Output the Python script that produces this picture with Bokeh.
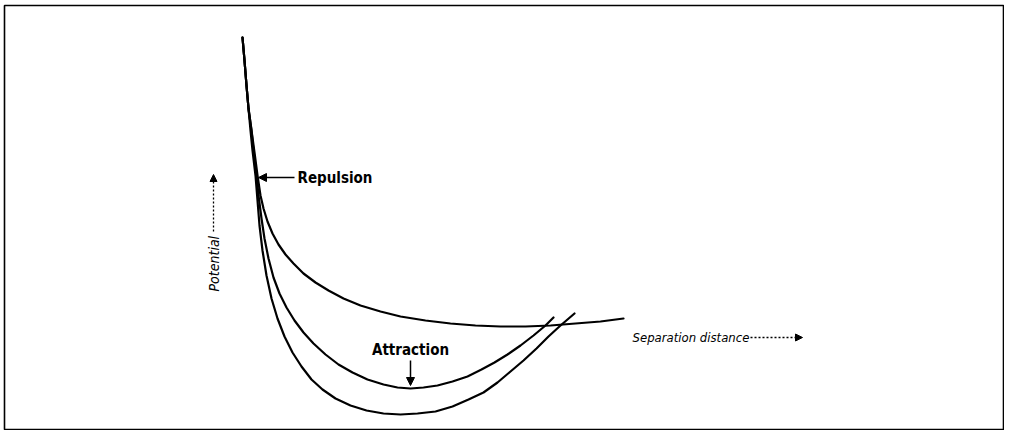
from bokeh.plotting import figure
from bokeh.models import Range1d, Label, Arrow, NormalHead
from bokeh.embed import file_html
from bokeh.resources import INLINE
import math

# Values: separation distance (x) and depth below top (pixel-like units)
sep_a = [242, 244, 246, 248, 251, 254, 257, 260, 263, 267, 272, 278, 285, 293, 303, 315, 328, 343, 360, 380,
         400, 425, 450, 475, 500, 525, 550, 575, 600, 623]
dep_a = [37, 60, 85, 108, 130, 152, 175, 195, 208, 221, 233, 244, 254, 263, 273, 282, 290, 298, 305, 311,
         316, 320, 323, 325, 326, 326, 325, 323, 321, 318]

sep_b = [242, 244, 246, 248, 251, 253, 256, 258, 261, 264, 268, 273, 279, 286, 294, 303, 313, 325, 338, 352,
         367, 383, 397, 410, 423, 437, 452, 467, 481, 494, 507, 520, 533, 545, 553]
dep_b = [37, 60, 85, 108, 130, 150, 175, 195, 218, 238, 258, 277, 293, 307, 320, 332, 343, 354, 364, 372,
         379, 384, 387, 388, 387, 385, 381, 376, 369, 362, 354, 345, 335, 325, 317]

sep_c = [242, 244, 246, 248, 250, 252, 255, 257, 259, 262, 266, 271, 277, 284, 292, 301, 311, 322, 335, 350,
         366, 383, 400, 417, 435, 452, 468, 483, 497, 510, 523, 536, 548, 560, 574]
dep_c = [37, 60, 85, 108, 130, 150, 175, 200, 225, 250, 275, 298, 318, 336, 352, 366, 379, 389, 398, 405,
         410, 413, 414, 413, 411, 406, 399, 392, 382, 371, 360, 348, 336, 325, 313]

H = 438
pot_a = [H - v for v in dep_a]
pot_b = [H - v for v in dep_b]
pot_c = [H - v for v in dep_c]

labels = ["Repulsion", "Attraction", "Potential", "Separation distance"]

p = figure(width=1004, height=430, output_backend="svg", toolbar_location=None,
           x_range=Range1d(4, 1004), y_range=Range1d(8, 433),
           min_border_left=4, min_border_top=5, min_border_right=0, min_border_bottom=0)
p.axis.visible = False
p.grid.visible = False
p.outline_line_color = "black"
p.outline_line_width = 1.6
p.background_fill_color = "white"
p.border_fill_color = "white"

for xs, ys in ((sep_a, pot_a), (sep_b, pot_b), (sep_c, pot_c)):
    p.line(xs, ys, line_color="black", line_width=2.2, line_join="round", line_cap="round")

bold_font = "'DejaVu Sans Condensed', 'Liberation Sans Narrow', sans-serif"
ital_font = "'DejaVu Sans Condensed', 'Liberation Sans Narrow', sans-serif"

# Repulsion label and arrow (pointing to the bundle of curves)
rx = sep_a[6]
ry = pot_a[6]
p.add_layout(Arrow(end=NormalHead(size=8, fill_color="black", line_color="black"),
                   x_start=rx + 37, y_start=ry - 2, x_end=rx + 1, y_end=ry - 2,
                   line_width=1.5, line_color="black"))
p.add_layout(Label(x=rx + 40, y=ry - 2, text=labels[0], text_font=bold_font,
                   text_font_style="bold", text_font_size="15px",
                   text_baseline="middle", text_align="left", text_color="black"))

# Attraction label and arrow (pointing to the minimum of the middle curve)
i_min = pot_b.index(min(pot_b))
ax, ay = sep_b[i_min], pot_b[i_min]
p.add_layout(Arrow(end=NormalHead(size=8, fill_color="black", line_color="black"),
                   x_start=ax, y_start=ay + 28, x_end=ax, y_end=ay + 3,
                   line_width=1.5, line_color="black"))
p.add_layout(Label(x=ax, y=ay + 39, text=labels[1], text_font=bold_font,
                   text_font_style="bold", text_font_size="15px",
                   text_baseline="middle", text_align="center", text_color="black"))

# Potential (vertical axis label)
p.add_layout(Label(x=213, y=H - 291, text=labels[2], text_font=ital_font,
                   text_font_style="italic", text_font_size="14px", angle=math.pi / 2,
                   text_baseline="middle", text_align="left", text_color="black"))
p.add_layout(Arrow(end=NormalHead(size=7, fill_color="black", line_color="black"),
                   x_start=213, y_start=H - 231, x_end=213, y_end=H - 174,
                   line_width=1.3, line_color="black", line_dash="2 2"))

# Separation distance (horizontal axis label)
p.add_layout(Label(x=632, y=H - 337, text=labels[3], text_font=ital_font,
                   text_font_style="italic", text_font_size="13px",
                   text_baseline="middle", text_align="left", text_color="black"))
p.add_layout(Arrow(end=NormalHead(size=7, fill_color="black", line_color="black"),
                   x_start=750, y_start=H - 337, x_end=802, y_end=H - 337,
                   line_width=1.3, line_color="black", line_dash="2 2"))

open("out.html", "w").write(file_html(p, INLINE))
